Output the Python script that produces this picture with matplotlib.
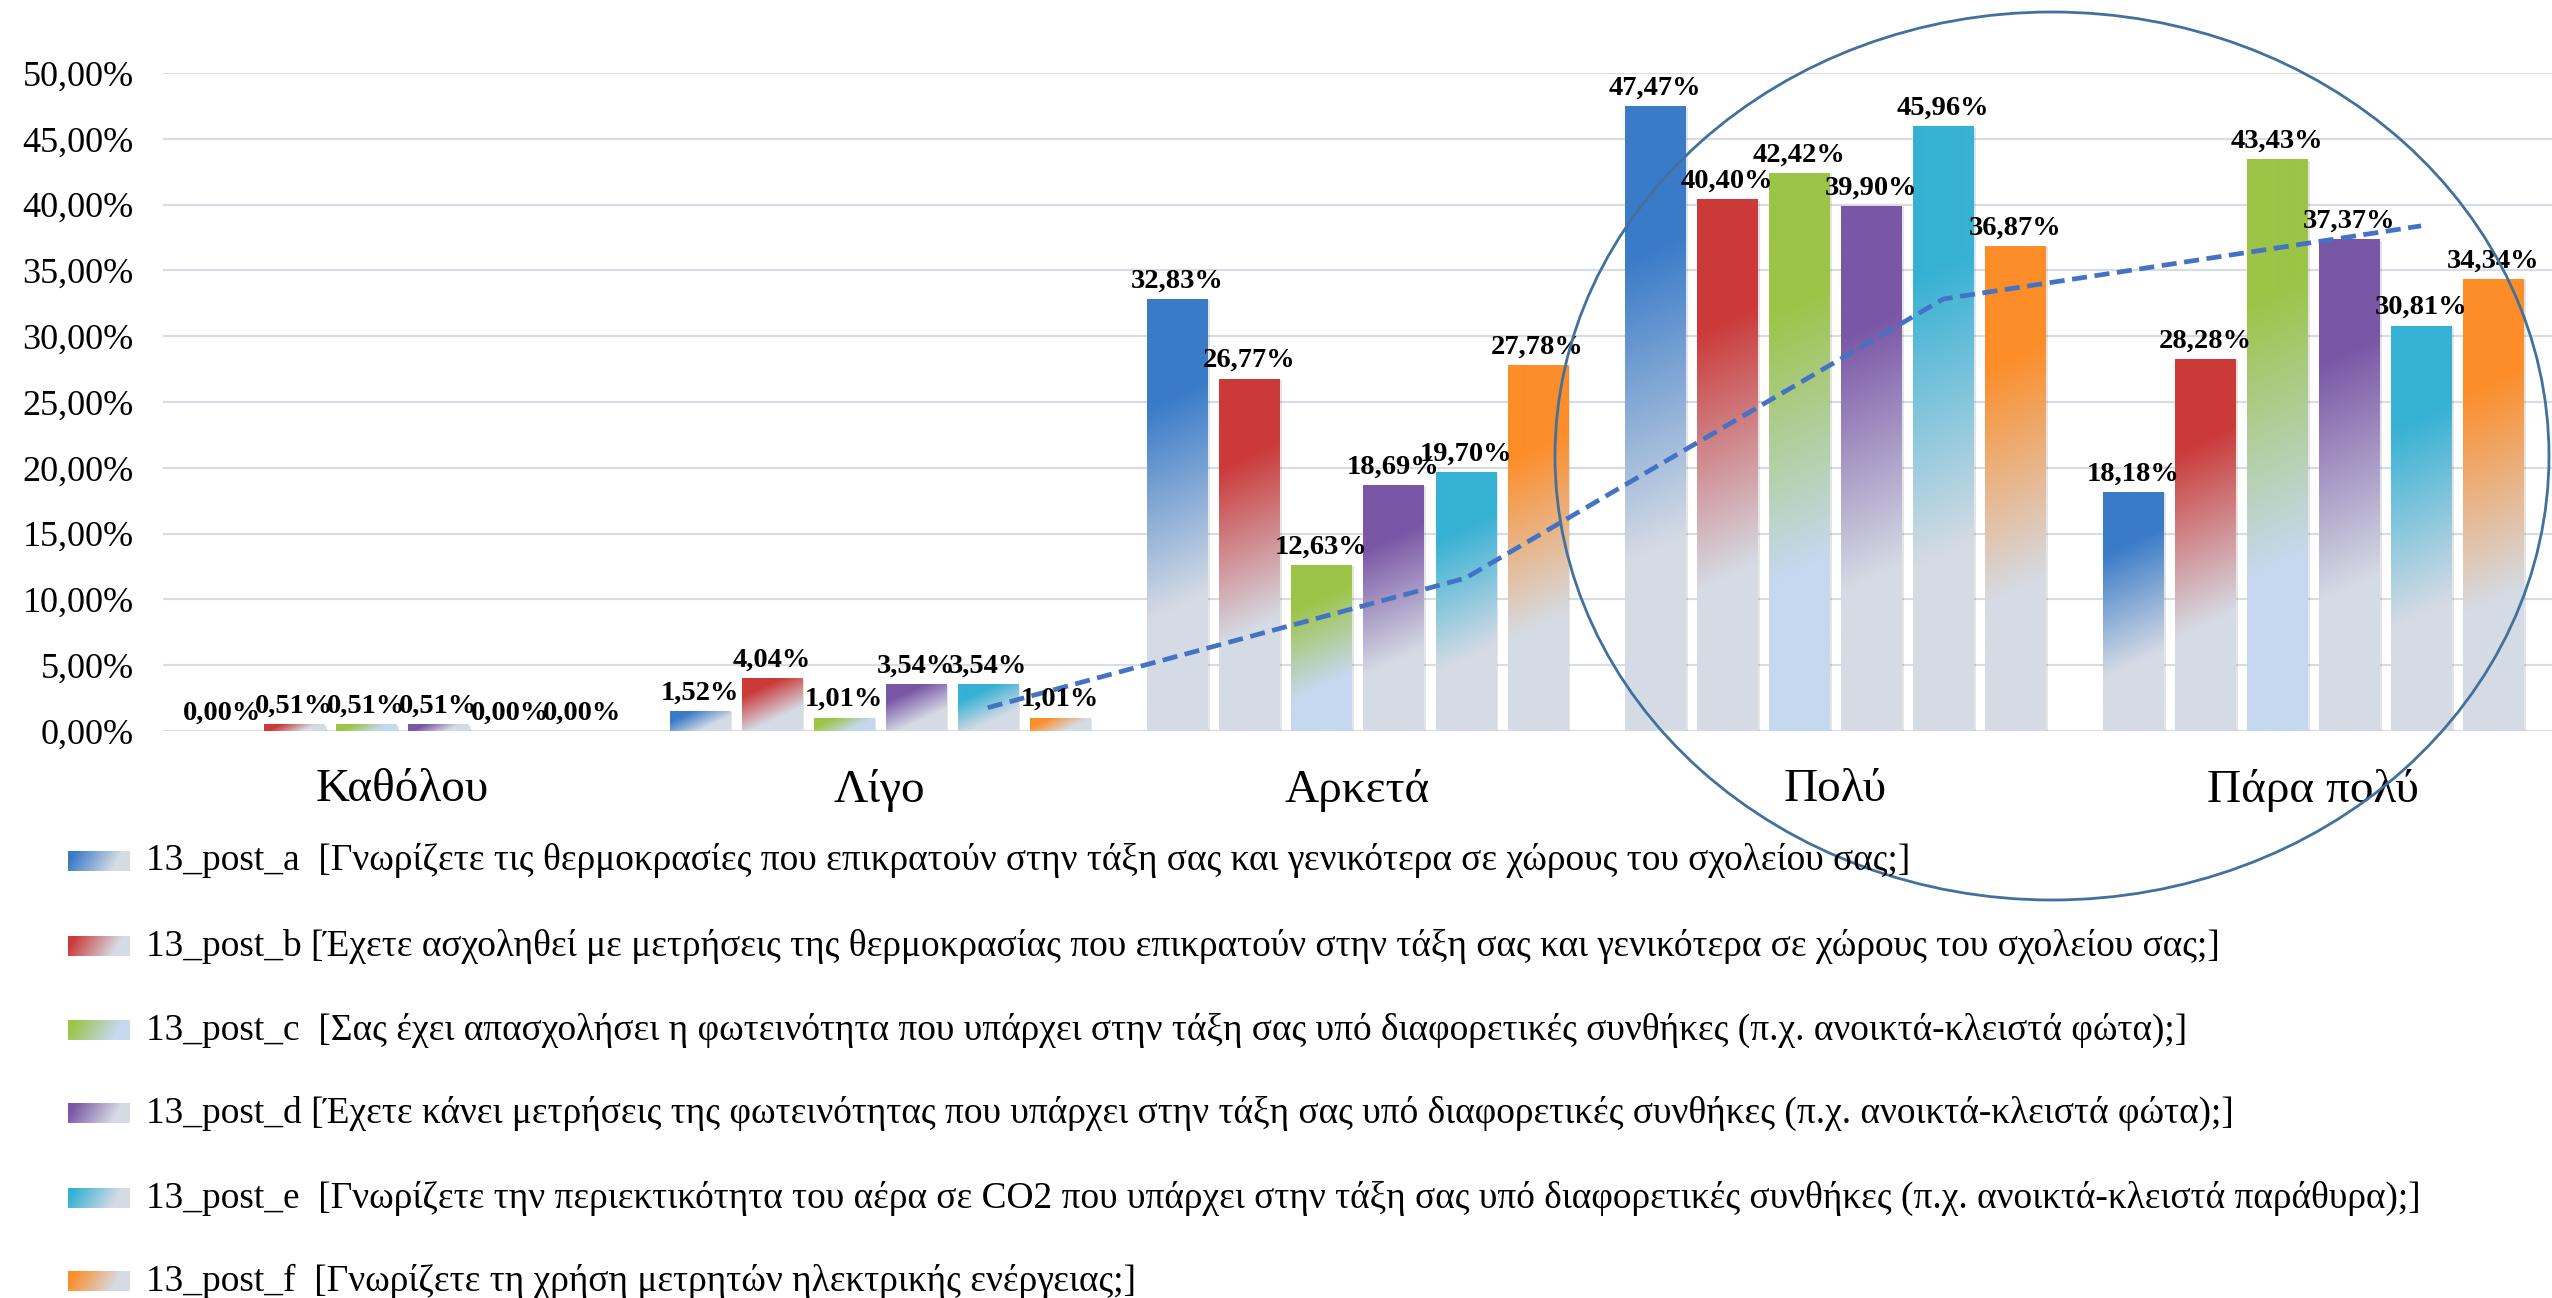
import numpy as np
import matplotlib
matplotlib.use("Agg")
import matplotlib.pyplot as plt
import matplotlib.patheffects as pe
from matplotlib.patches import Ellipse
from matplotlib.colors import to_rgb

plt.rcParams["font.family"] = ["Liberation Serif", "DejaVu Serif"]

# ---- data -------------------------------------------------------------
categories = ["Καθόλου", "Λίγο", "Αρκετά", "Πολύ", "Πάρα πολύ"]

series_keys = ["13_post_a", "13_post_b", "13_post_c", "13_post_d", "13_post_e", "13_post_f"]
series_questions = [
    " [Γνωρίζετε τις θερμοκρασίες που επικρατούν στην τάξη σας και γενικότερα σε χώρους του σχολείου σας;]",
    "[Έχετε ασχοληθεί με μετρήσεις της θερμοκρασίας που επικρατούν στην τάξη σας και γενικότερα σε χώρους του σχολείου σας;]",
    " [Σας έχει απασχολήσει η φωτεινότητα που υπάρχει στην τάξη σας υπό διαφορετικές συνθήκες (π.χ. ανοικτά-κλειστά φώτα);]",
    "[Έχετε κάνει μετρήσεις της φωτεινότητας που υπάρχει στην τάξη σας υπό διαφορετικές συνθήκες (π.χ. ανοικτά-κλειστά φώτα);]",
    " [Γνωρίζετε την περιεκτικότητα του αέρα σε CO2 που υπάρχει στην τάξη σας υπό διαφορετικές συνθήκες (π.χ. ανοικτά-κλειστά παράθυρα);]",
    " [Γνωρίζετε τη χρήση μετρητών ηλεκτρικής ενέργειας;]",
]

post_a = [0.00, 1.52, 32.83, 47.47, 18.18]
post_b = [0.51, 4.04, 26.77, 40.40, 28.28]
post_c = [0.51, 1.01, 12.63, 42.42, 43.43]
post_d = [0.51, 3.54, 18.69, 39.90, 37.37]
post_e = [0.00, 3.54, 19.70, 45.96, 30.81]
post_f = [0.00, 1.01, 27.78, 36.87, 34.34]
series_values = [post_a, post_b, post_c, post_d, post_e, post_f]

y_ticks = [0, 5, 10, 15, 20, 25, 30, 35, 40, 45, 50]

# ---- styling ----------------------------------------------------------
top_colors = ["#3a7bc8", "#cb3a39", "#9cc446", "#7a56a6", "#35b1d4", "#fd8d29"]
end_colors = ["#d5dbe4", "#d5dbe4", "#c5d8ef", "#d5dbe4", "#d5dbe4", "#d5dbe4"]
grid_color = "#d9dde3"
trend_color = "#4472c4"
ring_color = "#41719c"


def fmt_pct(v):
    return f"{v:.2f}%".replace(".", ",")


def gradient_rgba(top, end, w_px, h_px, angle=65.0, s1=0.24, s2=0.7):
    """Linear fill running from the top-left corner (solid) to the
    bottom-right corner (pale), computed in pixel space."""
    nx = max(int(round(w_px)), 2)
    ny = max(int(round(h_px)), 2)
    xs = (np.arange(nx) + 0.5) / nx * w_px
    ys = (np.arange(ny) + 0.5) / ny * h_px
    X, Y = np.meshgrid(xs, ys)
    c, s = np.cos(np.radians(angle)), np.sin(np.radians(angle))
    t = (X * c + Y * s) / (w_px * c + h_px * s)
    f = np.clip((t - s1) / (s2 - s1), 0, 1)[..., None]
    c0 = np.array(to_rgb(top))
    c1 = np.array(to_rgb(end))
    return c0 * (1 - f) + c1 * f


W, H = 2552, 1298
fig = plt.figure(figsize=(W / 100, H / 100), dpi=100)
fig.patch.set_facecolor("white")

ax = fig.add_axes([163 / W, 1 - 731 / H, (W - 163) / W, (731 - 73) / H])
ax.set_xlim(-0.5, len(categories) - 0.5)
ax.set_ylim(0, 50)

ax.set_yticks(y_ticks)
ax.set_yticklabels([fmt_pct(v) for v in y_ticks])
ax.set_xticks(np.arange(len(categories)))
ax.set_xticklabels(categories)
ax.tick_params(axis="y", length=0, pad=21, labelsize=26)
ax.tick_params(axis="x", length=0, pad=27, labelsize=34)
ax.yaxis.grid(True, color=grid_color, lw=1.6)
ax.set_axisbelow(True)
for sp in ax.spines.values():
    sp.set_visible(False)

pitch = 0.1507
bar_w = 0.1256
n_series = len(series_values)
x_base = np.arange(len(categories))
shadow = [pe.SimplePatchShadow(offset=(2, -1), shadow_rgbFace="#000000", alpha=0.10), pe.Normal()]

for j, (vals, top, end) in enumerate(zip(series_values, top_colors, end_colors)):
    xs = x_base + (j - (n_series - 1) / 2) * pitch
    bars = ax.bar(xs, vals, bar_w, color=end, edgecolor="none", zorder=2, path_effects=shadow)
    for b, v in zip(bars, vals):
        if v > 0:
            x0 = b.get_x()
            x1 = x0 + b.get_width()
            p0 = ax.transData.transform((x0, 0))
            p1 = ax.transData.transform((x1, v))
            img = gradient_rgba(top, end, abs(p1[0] - p0[0]), abs(p1[1] - p0[1]))
            im = ax.imshow(img, extent=(x0, x1, 0, v), origin="upper", aspect="auto",
                           interpolation="bilinear", zorder=3)
            im.set_clip_path(b)
        ax.annotate(fmt_pct(v), (b.get_x() + b.get_width() / 2, v), xytext=(0, 4),
                    textcoords="offset points", ha="center", va="bottom",
                    fontsize=20.5, fontweight="bold", color="black", zorder=6,
                    annotation_clip=False)

ax.set_xlim(-0.5, len(categories) - 0.5)
ax.set_ylim(0, 50)
ax.set_aspect("auto")

# two-period moving average of 13_post_e, placed on that series' bars
e_idx = 4
ma = [(post_e[i - 1] + post_e[i]) / 2 for i in range(1, len(post_e))]
ma_x = x_base[1:] + (e_idx - (n_series - 1) / 2) * pitch
ax.plot(ma_x, ma, color=trend_color, lw=3.4, ls=(0, (3.2, 1.6)), zorder=5)

# overlay in pixel units for the legend and the highlight ring
ov = fig.add_axes([0, 0, 1, 1], zorder=5)
ov.set_xlim(0, W)
ov.set_ylim(H, 0)
ov.axis("off")
ov.patch.set_alpha(0)

ov.add_patch(Ellipse((2052, 456), 2 * 497, 2 * 444, fill=False, edgecolor=ring_color, lw=2.0))

row_y = [861, 946, 1030, 1113, 1198, 1281]
for key, q, top, end, y in zip(series_keys, series_questions, top_colors, end_colors, row_y):
    img = gradient_rgba(top, end, 62, 20, angle=30, s1=0.1, s2=0.75)
    ov.imshow(img, extent=(68, 130, y + 10, y - 10), origin="upper", aspect="auto",
              interpolation="bilinear")
    ov.text(146, y, f"{key} {q}", fontsize=26.9, va="center", ha="left", color="black")

ov.set_xlim(0, W)
ov.set_ylim(H, 0)

fig.savefig("out.png", dpi=100, facecolor="white")
